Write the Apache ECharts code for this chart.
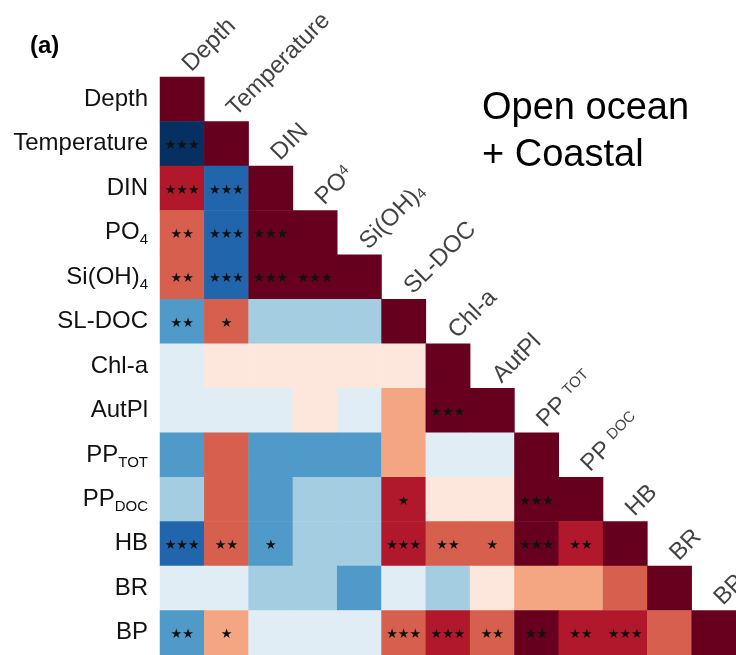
<!DOCTYPE html>
<html>
<head>
<meta charset="utf-8">
<script src="https://cdn.jsdelivr.net/npm/echarts@6/dist/echarts.min.js"></script>
<style>
  html, body { margin: 0; padding: 0; background: #fff; }
  #chart { width: 736px; height: 655px; }
</style>
</head>
<body>
<div id="chart"></div>
<script>
// variable names (rows top to bottom, columns left to right)
const vars = ["Depth", "Temperature", "DIN", "PO4", "Si(OH)4", "SL-DOC", "Chl-a",
  "AutPl", "PPtot", "PPdoc", "HB", "BR", "BP"];

// rich-text labels for the left axis (subscripts)
const rowLabels = ["Depth", "Temperature", "DIN", "PO{sub|4}", "Si(OH){sub|4}", "SL-DOC",
  "Chl-a", "AutPl", "PP{sub|TOT}", "PP{sub|DOC}", "HB", "BR", "BP"];
// labels drawn along the diagonal
const diagLabels = ["Depth", "Temperature", "DIN", "PO{sup|4}", "Si(OH){sub|4}", "SL-DOC",
  "Chl-a", "AutPl", "PP {sup|TOT}", "PP {sup|DOC}", "HB", "BR", "BP"];

// lower triangle of the correlation matrix (r), one row per variable
const rDepth   = [1];
const rTemp    = [-0.9, 1];
const rDIN     = [0.7, -0.7, 1];
const rPO4     = [0.5, -0.7, 0.9, 1];
const rSi      = [0.5, -0.7, 0.9, 0.9, 1];
const rSLDOC   = [-0.5, 0.5, -0.3, -0.3, -0.3, 1];
const rChla    = [-0.1, 0.1, 0.1, 0.1, 0.1, 0.1, 1];
const rAutPl   = [-0.1, -0.1, -0.1, 0.1, -0.1, 0.3, 0.9, 1];
const rPPtot   = [-0.5, 0.5, -0.5, -0.5, -0.5, 0.3, -0.1, -0.1, 1];
const rPPdoc   = [-0.3, 0.5, -0.5, -0.3, -0.3, 0.7, 0.1, 0.1, 0.9, 1];
const rHB      = [-0.7, 0.5, -0.5, -0.3, -0.3, 0.7, 0.5, 0.5, 0.9, 0.7, 1];
const rBR      = [-0.1, -0.1, -0.3, -0.3, -0.5, -0.1, -0.3, 0.1, 0.3, 0.3, 0.5, 1];
const rBP      = [-0.5, 0.3, -0.1, -0.1, -0.1, 0.5, 0.7, 0.5, 0.9, 0.7, 0.7, 0.5, 1];

// significance stars, same layout
const sDepth   = [""];
const sTemp    = ["***", ""];
const sDIN     = ["***", "***", ""];
const sPO4     = ["**", "***", "***", ""];
const sSi      = ["**", "***", "***", "***", ""];
const sSLDOC   = ["**", "*", "", "", "", ""];
const sChla    = ["", "", "", "", "", "", ""];
const sAutPl   = ["", "", "", "", "", "", "***", ""];
const sPPtot   = ["", "", "", "", "", "", "", "", ""];
const sPPdoc   = ["", "", "", "", "", "*", "", "", "***", ""];
const sHB      = ["***", "**", "*", "", "", "***", "**", "*", "***", "**", ""];
const sBR      = ["", "", "", "", "", "", "", "", "", "", "", ""];
const sBP      = ["**", "*", "", "", "", "***", "***", "**", "**", "**", "***", "", ""];

const rRows = [rDepth, rTemp, rDIN, rPO4, rSi, rSLDOC, rChla, rAutPl, rPPtot, rPPdoc, rHB, rBR, rBP];
const sRows = [sDepth, sTemp, sDIN, sPO4, sSi, sSLDOC, sChla, sAutPl, sPPtot, sPPdoc, sHB, sBR, sBP];

const cells = [];
rRows.forEach(function (row, y) {
  row.forEach(function (v, x) {
    cells.push({ value: [x, y, v], stars: sRows[y][x] });
  });
});
const diag = vars.map(function (v, i) { return { value: [i, i], name: diagLabels[i] }; });

const myChart = echarts.init(document.getElementById("chart"));
const font = "Liberation Sans, Arial, sans-serif";

const options = {
  animation: false,
  backgroundColor: "#fff",
  grid: { left: 160, top: 77, right: 0, bottom: 0 },
  xAxis: {
    type: "category",
    data: vars,
    position: "top",
    axisLine: { show: false },
    axisTick: { show: false },
    axisLabel: { show: false },
    splitLine: { show: false },
  },
  yAxis: {
    type: "category",
    data: vars,
    inverse: true,
    axisLine: { show: false },
    axisTick: { show: false },
    splitLine: { show: false },
    axisLabel: {
      margin: 12,
      formatter: function (v, i) { return rowLabels[i]; },
      rich: {
        sub: { fontSize: 15, lineHeight: 15, verticalAlign: "bottom", color: "#111", fontFamily: font },
      },
      fontSize: 24,
      lineHeight: 30,
      color: "#111",
      fontFamily: font,
    },
  },
  visualMap: {
    show: false,
    type: "piecewise",
    dimension: 2,
    seriesIndex: 0,
    pieces: [
      { gte: 0.8, color: "#67001F" },
      { gte: 0.6, lt: 0.8, color: "#B2182B" },
      { gte: 0.4, lt: 0.6, color: "#D6604D" },
      { gte: 0.2, lt: 0.4, color: "#F4A582" },
      { gte: 0, lt: 0.2, color: "#FDE7DC" },
      { gte: -0.2, lt: 0, color: "#E1EDF5" },
      { gte: -0.4, lt: -0.2, color: "#A5CDE2" },
      { gte: -0.6, lt: -0.4, color: "#4F9AC9" },
      { gte: -0.8, lt: -0.6, color: "#2166AC" },
      { lt: -0.8, color: "#053061" },
    ],
  },
  graphic: [
    { type: "text", left: 30, top: 34, style: { text: "(a)", fontSize: 24, fontWeight: "bold", fill: "#000", fontFamily: font } },
    { type: "text", left: 482, top: 85, style: { text: "Open ocean\n+ Coastal", fontSize: 38, lineHeight: 47, fill: "#000", fontFamily: font } },
  ],
  series: [
    {
      type: "heatmap",
      data: cells,
      itemStyle: { borderWidth: 0 },
      label: {
        show: true,
        formatter: function (p) { return p.data.stars.replace(/\*/g, "\u2605"); },
        fontSize: 13,
        color: "#111",
        fontFamily: "DejaVu Sans",
        offset: [0, 2],
      },
      emphasis: { disabled: true },
    },
    {
      type: "scatter",
      data: diag,
      symbolSize: 0,
      itemStyle: { color: "transparent" },
      silent: true,
      label: {
        show: true,
        formatter: function (p) { return p.data.name; },
        position: [13, -23],
        rotate: 45,
        align: "left",
        verticalAlign: "bottom",
        fontSize: 24,
        color: "#111",
        fontFamily: font,
        rich: {
          sub: { fontSize: 15, lineHeight: 15, verticalAlign: "bottom", color: "#111", fontFamily: font },
          sup: { fontSize: 15, lineHeight: 15, verticalAlign: "top", color: "#111", fontFamily: font },
        },
      },
    },
  ],
};

myChart.setOption(options);
</script>
</body>
</html>
